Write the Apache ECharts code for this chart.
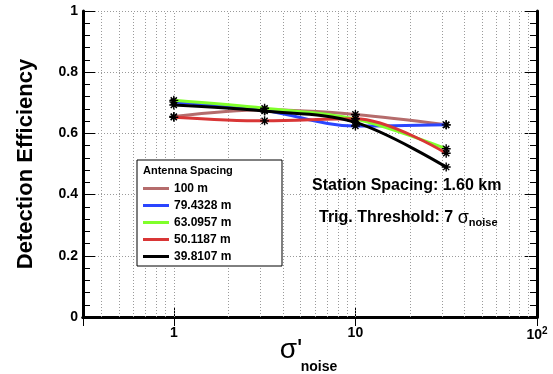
<!DOCTYPE html>
<html><head><meta charset="utf-8">
<script src="https://cdn.jsdelivr.net/npm/echarts@6/dist/echarts.min.js"></script>
<style>html,body{margin:0;padding:0;background:#fff}#c{width:553px;height:374px}</style>
</head><body><div id="c"></div>
<script>
const xValues = [1, 3.1623, 10, 31.623];
const seriesNames = ['100 m', '79.4328 m', '63.0957 m', '50.1187 m', '39.8107 m'];
const eff100 = [0.655, 0.677, 0.662, 0.628];
const eff79 = [0.703, 0.675, 0.624, 0.628];
const eff63 = [0.708, 0.682, 0.647, 0.550];
const eff50 = [0.653, 0.641, 0.648, 0.535];
const eff40 = [0.693, 0.673, 0.636, 0.490];
const xGridValues = [0.4, 0.5, 0.6, 0.7, 0.8, 0.9, 1, 2, 3, 4, 5, 6, 7, 8, 9, 10, 20, 30, 40, 50, 60, 70, 80, 90];
const xTickLabels = {1: '1', 10: '10', 100: '10{sup|2}'};
const colors = ['#b56c6c', '#2a45ff', '#80ff2a', '#d93636', '#000000'];
const allValues = [eff100, eff79, eff63, eff50, eff40];

const FONT = 'Liberation Sans, Arial, sans-serif';
const star = 'path://M5,0L5,10M0,5L10,5M1.6,1.6L8.4,8.4M1.6,8.4L8.4,1.6';

const series = seriesNames.map((name, i) => ({
  name: name,
  type: 'line',
  smooth: 0.35,
  data: xValues.map((x, j) => [x, allValues[i][j]]),
  symbol: star,
  symbolSize: 9,
  lineStyle: {color: colors[i], width: 3},
  itemStyle: {color: colors[i], borderColor: '#000', borderWidth: 1.4},
  emphasis: {disabled: true},
  z: 3 + i
}));
series.push({
  name: 'grid', type: 'line', data: [], silent: true,
  markLine: {
    silent: true, symbol: 'none', label: {show: false}, z: 1,
    lineStyle: {color: '#9a9a9a', type: [1, 2], width: 1},
    data: xGridValues.map(v => ({xAxis: v}))
  }
});

const yCommon = {
  type: 'value', min: 0, max: 1, interval: 0.2,
  axisLine: {show: true, lineStyle: {color: '#000', width: 3}},
  axisTick: {show: true, inside: true, length: 12, lineStyle: {color: '#000', width: 1}},
  minorTick: {show: true, splitNumber: 5, length: 7, lineStyle: {color: '#000', width: 1}}
};
const xCommon = {
  type: 'log', logBase: 10, min: 0.31623, max: 100,
  axisLine: {show: true, lineStyle: {color: '#000', width: 3}},
  axisTick: {show: true, inside: true, length: 9, lineStyle: {color: '#000', width: 1}},
  splitLine: {show: false}
};

const chart = echarts.init(document.getElementById('c'), null, {renderer: 'canvas'});
chart.setOption({
  animation: false,
  backgroundColor: '#fff',
  grid: {left: 83, right: 16, top: 11, bottom: 57, containLabel: false},
  xAxis: [
    Object.assign({}, xCommon, {
      position: 'bottom',
      axisLabel: {
        margin: 9, color: '#000', fontFamily: FONT, fontWeight: 'bold', fontSize: 14,
        formatter: v => {
          const k = Math.round(v);
          return (Math.abs(v - k) < 1e-6 && xTickLabels[k]) ? xTickLabels[k] : '';
        },
        rich: {sup: {fontSize: 10, fontWeight: 'bold', fontFamily: FONT, verticalAlign: 'top', padding: [0, 0, 8, 0]}}
      }
    }),
    Object.assign({}, xCommon, {position: 'top', axisLabel: {show: false}})
  ],
  yAxis: [
    Object.assign({}, yCommon, {
      position: 'left',
      name: 'Detection Efficiency', nameLocation: 'middle', nameGap: 46,
      nameTextStyle: {color: '#000', fontFamily: FONT, fontWeight: 'bold', fontSize: 22},
      splitLine: {show: true, lineStyle: {color: '#9a9a9a', type: [1, 2], width: 1}},
      axisLabel: {margin: 5, color: '#000', fontFamily: FONT, fontWeight: 'bold', fontSize: 14,
        formatter: v => String(Math.round(v * 10) / 10)}
    }),
    Object.assign({}, yCommon, {position: 'right', axisLabel: {show: false}, splitLine: {show: false}})
  ],
  legend: {
    orient: 'vertical', left: 137, top: 160,
    padding: [22, 6, 3, 6], itemGap: 4,
    backgroundColor: '#fff', borderColor: '#000', borderWidth: 1,
    icon: 'rect', itemWidth: 26, itemHeight: 3,
    itemStyle: {borderWidth: 0},
    textStyle: {color: '#000', fontFamily: FONT, fontWeight: 'bold', fontSize: 12, lineHeight: 13, width: 102},
    data: seriesNames.map((n, i) => ({name: n, itemStyle: {color: colors[i], borderWidth: 0}}))
  },
  graphic: [
    {type: 'text', left: 143, top: 165, z: 100, style: {text: 'Antenna Spacing', font: 'bold 11px ' + FONT, fill: '#000'}},
    {type: 'text', x: 312, y: 186, z: 100, style: {text: 'Station Spacing: 1.60 km', font: 'bold 16px ' + FONT, fill: '#000', verticalAlign: 'middle'}},
    {type: 'text', x: 319, y: 218, z: 100, style: {
      text: 'Trig. Threshold: 7 {g|σ}{sub|noise}', font: 'bold 16px ' + FONT, fill: '#000', verticalAlign: 'middle',
      rich: {g: {font: '18px ' + FONT, fill: '#000'}, sub: {font: 'bold 11px ' + FONT, fill: '#000', padding: [10, 0, 0, 0]}}
    }},
    {type: 'text', x: 291, y: 350, z: 100, style: {text: "σ'", font: '28px ' + FONT, fill: '#000', align: 'center', verticalAlign: 'middle'}},
    {type: 'text', x: 319, y: 367, z: 100, style: {text: 'noise', font: 'bold 14px ' + FONT, fill: '#000', align: 'center', verticalAlign: 'middle'}}
  ],
  series: series
});
</script>
</body></html>
